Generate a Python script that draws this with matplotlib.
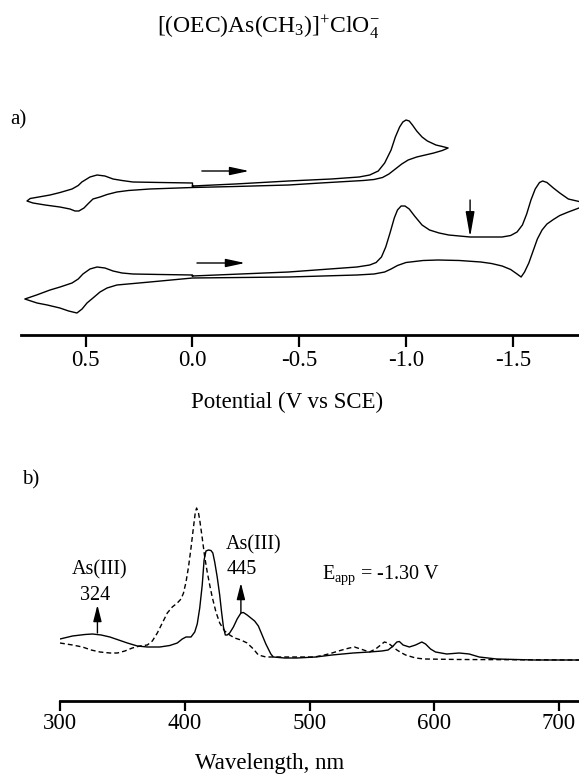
import matplotlib
matplotlib.use("Agg")
import matplotlib.pyplot as plt

plt.rcParams['font.family'] = ['Liberation Serif', 'DejaVu Serif']
plt.rcParams['mathtext.default'] = 'regular'

# ---------------- data: cyclic voltammograms (E in V vs SCE, current a.u.) -------------
# upper CV: scan 0.0 -> -1.20 -> +0.78 -> 0.0
cv1_E = [0.0, -0.2, -0.45, -0.65, -0.78, -0.83, -0.87, -0.90, -0.93, -0.95, -0.97, -0.985,
         -1.0, -1.015, -1.03, -1.05, -1.075, -1.10, -1.14, -1.17, -1.197,
         -1.17, -1.13, -1.09, -1.05, -1.01, -0.98, -0.95, -0.92, -0.89, -0.85, -0.80, -0.60,
         -0.45, -0.2, 0.0, 0.2, 0.3, 0.354, 0.40, 0.433, 0.466, 0.49, 0.508, 0.532, 0.55,
         0.574, 0.621, 0.69, 0.747, 0.775, 0.76, 0.72, 0.667, 0.62, 0.564, 0.535, 0.518,
         0.48, 0.447, 0.41, 0.372, 0.33, 0.279, 0.15, 0.0, 0.0]
cv1_i = [149, 151, 154, 156, 158, 160, 164, 172, 185, 198, 208, 213,
         215, 214, 210, 204, 198, 194, 190, 188.5, 187,
         184.5, 182, 180, 178, 175, 171, 166, 161, 157.5, 155.5, 154.5, 152,
         150, 148.5, 147.5, 146, 144.5, 143, 140.5, 138, 136, 131, 127, 124, 124,
         126, 128, 130, 132, 134, 136.5, 138, 140, 142.5, 146, 149.5, 153,
         158, 160, 159, 156, 154.5, 153, 152.5, 152, 149]

# lower CV: scan 0.0 -> -1.85 -> +0.78 -> 0.0
cv2_E = [0.0, -0.45, -0.77, -0.83, -0.86, -0.885, -0.905, -0.925, -0.945, -0.96, -0.977,
         -0.995, -1.015, -1.04, -1.075, -1.11, -1.155, -1.2, -1.3, -1.45, -1.49, -1.52,
         -1.545, -1.565, -1.585, -1.605, -1.625, -1.64, -1.66, -1.69, -1.72, -1.76, -1.81,
         -1.85,
         -1.81, -1.76, -1.72, -1.69, -1.66, -1.637, -1.615, -1.595, -1.575, -1.555, -1.539,
         -1.52, -1.49, -1.45, -1.40, -1.35, -1.25, -1.15, -1.08, -1.04, -1.0, -0.96, -0.93,
         -0.90, -0.85, -0.77, -0.45, 0.0, 0.199, 0.354, 0.40, 0.433, 0.466, 0.494, 0.517,
         0.541, 0.58, 0.621, 0.68, 0.728, 0.785, 0.73, 0.667, 0.62, 0.564, 0.535, 0.513,
         0.48, 0.447, 0.41, 0.372, 0.33, 0.279, 0.15, 0.0, 0.0]
cv2_i = [59, 63, 68, 70, 72.5, 78, 88, 102, 117, 125, 129,
         129, 126, 119, 110, 105, 102, 100, 98, 98, 99.5, 103,
         110, 121, 135, 146, 152.5, 154, 152.5, 147, 142, 136, 133.5,
         133,
         127, 123, 119.5, 115.5, 111, 105, 96, 84, 72, 63, 58,
         61, 65.5, 69, 71.5, 73, 74.5, 75, 74.5, 73.5, 72.5, 69.5, 66,
         63, 61, 60, 58, 57, 53, 50, 47, 43, 37, 32, 26,
         22, 24, 27, 30, 32, 36, 40, 45, 48, 52, 56, 61,
         66, 68, 67, 64, 62, 61, 60.5, 60, 59]

cv_ticks = [0.5, 0.0, -0.5, -1.0, -1.5]
cv_ticklabels = ['0.5', '0.0', '-0.5', '-1.0', '-1.5']

# ---------------- data: UV-vis spectra (wavelength nm, absorbance a.u.) -------------
sol_wl = [300, 310, 320, 326, 333, 340, 347, 354, 362, 370, 380, 388, 394, 398, 401, 405,
          408, 410, 412, 414, 415.5, 417, 419, 421, 422.5, 424, 426, 428, 429.5, 431, 432.5,
          434, 436, 439, 442, 445, 447, 450, 453, 456, 459, 461, 463, 465, 467, 469, 471,
          480, 490, 505, 518, 535, 548, 558, 563, 567, 570, 572, 575, 580, 585, 590, 593,
          597, 601, 610, 620, 628, 636, 650, 680, 716]
sol_A = [21, 24, 25.5, 26, 25, 23, 20, 17, 14, 13, 13, 14.5, 17, 21, 23, 23,
         28, 36, 52, 75, 100, 109, 110, 109.5, 107, 98, 83, 65, 48, 33, 25,
         25, 27, 33, 41, 47, 47.5, 45, 42, 39, 34, 28, 22, 16, 11, 6, 3,
         2, 2, 3, 5, 7, 8, 9, 10, 14, 18, 18.5, 15, 13, 15, 18, 16,
         11, 8, 6, 7, 6, 3, 1, 0, 0]

dash_wl = [300, 310, 318, 325, 332, 340, 346, 352, 358, 364, 370, 374, 378, 382, 386, 390,
           394, 397, 399, 401, 403, 405, 407, 408.5, 409.5, 411, 412, 414, 416, 418, 420,
           422, 425, 428, 432, 436, 440, 445, 450, 455, 459, 465, 474, 490, 504, 512, 518,
           526, 532, 536, 541, 548, 553, 557, 560, 563, 566, 570, 574, 577, 585, 592, 620,
           716]
dash_A = [17, 15, 13, 10, 8, 7, 7, 9, 12, 14, 15, 19, 27, 37, 47, 53,
          57, 61, 67, 78, 93, 112, 133, 148, 152, 147, 140, 122, 103, 88, 75,
          63, 48, 37, 29, 25, 22, 20, 17, 11, 5, 3, 3, 3, 3, 5, 7,
          10, 12, 13, 11, 8, 11, 15, 18, 17, 14, 10, 7, 5, 2, 1, 0.5,
          0]

uv_ticks = [300, 400, 500, 600, 700]

W, H = 579, 775
fig = plt.figure(figsize=(W / 100, H / 100), dpi=100)

def fx(px):
    return px / W

def fy(py):
    return 1 - py / H

LW = 1.0

# ---------------- panel a: CV ----------------
ax1 = fig.add_axes([fx(21), fy(335), 1 - fx(21), fy(100) - fy(335)])
ax1.plot(cv1_E, cv1_i, color='black', lw=LW, solid_joinstyle='round')
ax1.plot(cv2_E, cv2_i, color='black', lw=LW, solid_joinstyle='round')
ax1.set_xlim(0.803, -1.81)
ax1.set_ylim(0, 235)
ax1.set_xticks(cv_ticks)
ax1.set_xticklabels(cv_ticklabels)
ax1.set_yticks([])
for s in ['left', 'right', 'top']:
    ax1.spines[s].set_visible(False)
ax1.spines['bottom'].set_linewidth(2.0)
ax1.tick_params(axis='x', direction='out', length=8.5, width=1.6, pad=2, labelsize=16.5)
ax1.patch.set_alpha(0)

arrow_kw = dict(arrowstyle='-|>,head_length=0.65,head_width=0.14', color='black',
                lw=1.0, mutation_scale=18, shrinkA=0, shrinkB=0)
down_kw = dict(arrowstyle='-|>,head_length=0.85,head_width=0.15', color='black',
               lw=1.0, mutation_scale=18, shrinkA=0, shrinkB=0)
ax1.annotate('', xy=(-0.265, 164), xytext=(-0.044, 164), arrowprops=arrow_kw)
ax1.annotate('', xy=(-0.246, 72), xytext=(-0.021, 72), arrowprops=arrow_kw)
ax1.annotate('', xy=(-1.30, 98), xytext=(-1.30, 135), arrowprops=down_kw)

# ---------------- panel b: UV-vis ----------------
ax2 = fig.add_axes([fx(60), fy(701), 1 - fx(60), fy(480) - fy(701)])
ax2.plot(sol_wl, sol_A, color='black', lw=LW, solid_joinstyle='round')
ax2.plot(dash_wl, dash_A, color='black', lw=LW, dashes=(3.5, 2.2))
ax2.set_xlim(300, 716)
ax2.set_ylim(-41, 180)
ax2.set_xticks(uv_ticks)
ax2.set_yticks([])
for s in ['left', 'right', 'top']:
    ax2.spines[s].set_visible(False)
ax2.spines['bottom'].set_linewidth(2.0)
ax2.tick_params(axis='x', direction='out', length=7.5, width=1.6, pad=1, labelsize=16.5)
ax2.patch.set_alpha(0)

up_kw = dict(arrowstyle='-|>,head_length=0.55,head_width=0.14', color='black',
             lw=1.0, mutation_scale=18, shrinkA=0, shrinkB=0)
ax2.annotate('', xy=(330, 55), xytext=(330, 27), arrowprops=up_kw)
ax2.annotate('', xy=(445, 77), xytext=(445, 47), arrowprops=up_kw)
ax2.text(332, 90, 'As(III)', ha='center', va='center', fontsize=14.5)
ax2.text(328, 65, '324', ha='center', va='center', fontsize=14.5)
ax2.text(455, 115, 'As(III)', ha='center', va='center', fontsize=14.5)
ax2.text(446, 90, '445', ha='center', va='center', fontsize=14.5)
ax2.text(510, 85, r'E$_{app}$ = -1.30 V', ha='left', va='center', fontsize=14.5)

# ---------------- texts ----------------
fig.text(fx(268), fy(27), r'[(OEC)As(CH$_3$)]$^{+}$ClO$_4^{-}$', ha='center', va='center',
         fontsize=17)
fig.text(fx(10), fy(120), 'a)', ha='left', va='center', fontsize=15)
fig.text(fx(22), fy(480), 'b)', ha='left', va='center', fontsize=15)
fig.text(fx(287), fy(402), 'Potential (V vs SCE)', ha='center', va='center', fontsize=16.5)
fig.text(fx(270), fy(763), 'Wavelength, nm', ha='center', va='center', fontsize=16.5)

fig.savefig('out.png', dpi=100, facecolor='white')
